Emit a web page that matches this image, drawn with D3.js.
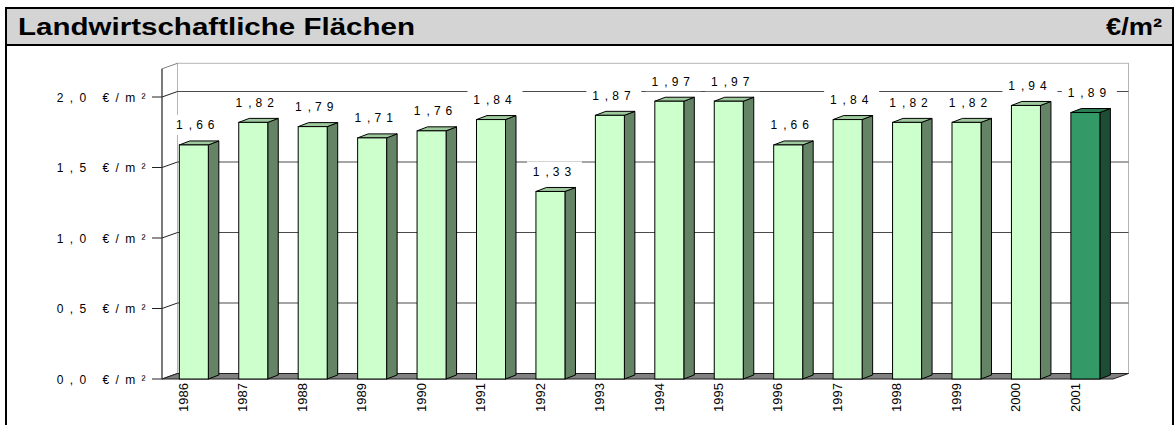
<!DOCTYPE html>
<html><head><meta charset="utf-8">
<script src="https://cdn.jsdelivr.net/npm/d3@7"></script>
<style>body{margin:0;background:#fff}svg{display:block}text{font-family:"Liberation Sans",Arial,sans-serif}</style>
</head><body>
<script>
const titleText = "Landwirtschaftliche Flächen";
const unitText = "€/m²";
const years = ["1986","1987","1988","1989","1990","1991","1992","1993","1994","1995","1996","1997","1998","1999","2000","2001"];
const values = [1.66,1.82,1.79,1.71,1.76,1.84,1.33,1.87,1.97,1.97,1.66,1.84,1.82,1.82,1.94,1.89];
const valueLabels = ["1,66","1,82","1,79","1,71","1,76","1,84","1,33","1,87","1,97","1,97","1,66","1,84","1,82","1,82","1,94","1,89"];
const yTicks = [0, 0.5, 1.0, 1.5, 2.0];
const yTickLabels = ["0,0 €/m²","0,5 €/m²","1,0 €/m²","1,5 €/m²","2,0 €/m²"];
const highlightYear = "2001";

const W = 1175, H = 425;
const svg = d3.select("body").append("svg").attr("width", W).attr("height", H);

// frame + title bar
svg.append("rect").attr("x",6).attr("y",9).attr("width",1167).attr("height",36).attr("fill","#d4d4d4");
svg.append("rect").attr("x",6).attr("y",8).attr("width",1167).attr("height",440)
  .attr("fill","none").attr("stroke","#000").attr("stroke-width",2);
svg.append("line").attr("x1",6).attr("x2",1173).attr("y1",45).attr("y2",45).attr("stroke","#000").attr("stroke-width",2);
svg.append("text").attr("x",18).attr("y",35).attr("font-size",24).attr("font-weight","bold")
  .attr("textLength",397).attr("lengthAdjust","spacingAndGlyphs").text(titleText);
svg.append("text").attr("x",1106).attr("y",35).attr("font-size",24).attr("font-weight","bold")
  .attr("textLength",56).attr("lengthAdjust","spacingAndGlyphs").text(unitText);

// scales
const x0 = 162, x1 = 1113;
const y = d3.scaleLinear().domain([0, 2.2]).range([379, 68.8]);
const x = d3.scaleBand().domain(years).range([x0, x1]).paddingInner(0.512).paddingOuter(0.256);
const barShift = 2.1;
const wdx = 15.5, wdy = -5.5;   // wall depth
const bdx = 10.5, bdy = -4;     // bar depth

const g = svg.append("g");
const yTop = y(2.2), yBot = y(0);

// back wall
g.append("rect").attr("x", x0+wdx).attr("y", yTop+wdy).attr("width", x1-x0).attr("height", yBot-yTop)
  .attr("fill","#fff").attr("stroke","#b4b4b4").attr("stroke-width",1);
// side wall top edge
g.append("line").attr("x1",x0).attr("y1",yTop).attr("x2",x0+wdx).attr("y2",yTop+wdy).attr("stroke","#808080");

// gridlines (back + side) and ticks
yTicks.forEach(t => {
  const yy = y(t);
  if (t > 0) g.append("line").attr("x1", x0+wdx).attr("x2", x1+wdx).attr("y1", yy+wdy).attr("y2", yy+wdy)
    .attr("stroke","#4a4a4a").attr("stroke-width",1);
  g.append("line").attr("x1", x0).attr("y1", yy).attr("x2", x0+wdx).attr("y2", yy+wdy).attr("stroke","#222").attr("stroke-width",1);
  g.append("line").attr("x1", x0-10).attr("x2", x0).attr("y1", yy).attr("y2", yy).attr("stroke","#222").attr("stroke-width",1);
});

// floor
g.append("path").attr("d", `M${x0},${yBot}L${x1},${yBot}L${x1+wdx},${yBot+wdy}L${x0+wdx},${yBot+wdy}Z`)
  .attr("fill","#808080").attr("stroke","#222").attr("stroke-width",1);

// front axis line
g.append("line").attr("x1",x0).attr("x2",x0).attr("y1",yTop).attr("y2",yBot).attr("stroke","#333").attr("stroke-width",1.3);

// y tick labels
g.selectAll(".ylab").data(yTicks).join("text").attr("class","ylab")
  .attr("x", x0-10).attr("y", d => y(d)+4.5).attr("text-anchor","end")
  .attr("font-size",12).attr("letter-spacing",6.4).attr("fill","#000")
  .text((d,i) => yTickLabels[i]);

// bars
const bars = g.selectAll(".bar").data(years.map((yr,i)=>({yr, v: values[i], lab: valueLabels[i]}))).join("g").attr("class","bar");
const col = d => d.yr === highlightYear ? {f:"#339966", t:"#2a7d52", s:"#1d4d34"} : {f:"#ccffcc", t:"#9cc89c", s:"#658465"};
bars.each(function(d){
  const sel = d3.select(this);
  const bx = x(d.yr) + barShift, bw = x.bandwidth(), top = y(d.v), bot = y(0);
  const c = col(d);
  sel.append("path").attr("d", `M${bx+bw},${bot}L${bx+bw+bdx},${bot+bdy}L${bx+bw+bdx},${top+bdy}L${bx+bw},${top}Z`)
    .attr("fill", c.s).attr("stroke","#000").attr("stroke-width",1).attr("stroke-linejoin","round");
  sel.append("path").attr("d", `M${bx},${top}L${bx+bdx},${top+bdy}L${bx+bw+bdx},${top+bdy}L${bx+bw},${top}Z`)
    .attr("fill", c.t).attr("stroke","#000").attr("stroke-width",1).attr("stroke-linejoin","round");
  sel.append("rect").attr("x", bx).attr("y", top).attr("width", bw).attr("height", bot-top)
    .attr("fill", c.f).attr("stroke","#000").attr("stroke-width",1);
});

// value labels with white boxes
bars.each(function(d){
  const sel = d3.select(this);
  const cx = x(d.yr) + barShift + 16, cy = y(d.v) - 20;
  sel.append("rect").attr("x", cx-25).attr("y", cy-10).attr("width",55).attr("height",20).attr("fill","#fff");
  const t = sel.append("text").attr("x", cx+2.5).attr("y", cy+4.5).attr("text-anchor","middle")
    .attr("font-size",12).attr("letter-spacing",5);
  const parts = d.lab.split(",");
  t.append("tspan").text(parts[0]);
  t.append("tspan").attr("dx",1).text(",");
  t.append("tspan").attr("dx",-1).text(parts[1]);
});

// x labels
g.selectAll(".xlab").data(years).join("text").attr("class","xlab")
  .attr("transform", d => `translate(${x(d)+barShift+8.7},${yBot+4}) rotate(-90)`)
  .attr("text-anchor","end").attr("font-size",13).text(d => d);
</script>
</body></html>
